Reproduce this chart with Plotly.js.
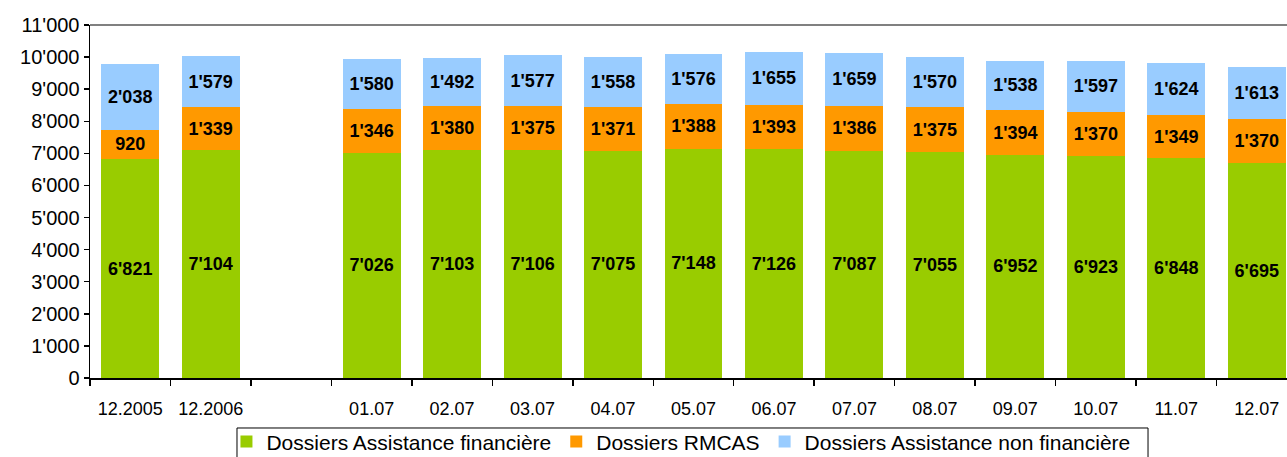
<!DOCTYPE html>
<html><head><meta charset="utf-8">
<script src="https://cdn.plot.ly/plotly-3.0.1.min.js"></script>
<style>html,body{margin:0;padding:0;background:#fff;}#chart{width:1287px;height:457px;}</style>
</head><body><div id="chart"></div>
<script>
const categories = ["12.2005","12.2006"," ","01.07","02.07","03.07","04.07","05.07","06.07","07.07","08.07","09.07","10.07","11.07","12.07"];
const financiere = [6821,7104,null,7026,7103,7106,7075,7148,7126,7087,7055,6952,6923,6848,6695];
const rmcas = [920,1339,null,1346,1380,1375,1371,1388,1393,1386,1375,1394,1370,1349,1370];
const nonFinanciere = [2038,1579,null,1580,1492,1577,1558,1576,1655,1659,1570,1538,1597,1624,1613];
const seriesNames = ["Dossiers Assistance financière","Dossiers RMCAS","Dossiers Assistance non financière"];
const colors = ["#99CC00","#FF9900","#99CCFF"];

function fmt(v){ if(v===null) return ""; return String(v).replace(/\B(?=(\d{3})+(?!\d))/g,"'"); }

const font = "Liberation Sans, Arial, sans-serif";
const traces = [financiere, rmcas, nonFinanciere].map((vals,i)=>({
  type:"bar", x:categories, y:vals, name:seriesNames[i],
  marker:{color:colors[i], line:{width:0}},
  text: vals.map(fmt), textposition:"inside", insidetextanchor:"middle",
  textangle:0, constraintext:"none",
  textfont:{family:font, size:18, color:"#000", weight:"bold"},
  hoverinfo:"skip"
}));

const layout = {
  width:1287, height:457,
  margin:{l:90, r:0, t:25, b:79, autoexpand:false},
  barmode:"stack", bargap:0.28,
  separators:".'",
  paper_bgcolor:"#fff", plot_bgcolor:"#fff",
  font:{family:font, color:"#000"},
  showlegend:true,
  legend:{orientation:"h", x:0.4937, xanchor:"center", y:-0.1225, yanchor:"top",
    borderwidth:0, bgcolor:"rgba(0,0,0,0)",
    font:{family:font, size:21, color:"#000"}, traceorder:"normal", itemwidth:30},
  xaxis:{type:"category", categoryorder:"array", categoryarray:categories,
    range:[-0.5, 14.376], showline:true, linecolor:"#000", linewidth:1.5,
    ticks:"outside", tickson:"boundaries", ticklen:6, tickcolor:"#000", tickwidth:1.5,
    ticklabelstandoff:14, tickfont:{family:font, size:18, color:"#000"},
    showgrid:false, zeroline:false, fixedrange:true},
  yaxis:{range:[0,11000], dtick:1000, tickformat:",d", showline:true, linecolor:"#000", linewidth:1.5,
    ticks:"outside", ticklen:5, tickcolor:"#000", tickwidth:1.5,
    tickfont:{family:font, size:20, color:"#000"},
    showgrid:false, zeroline:false, fixedrange:true},
  shapes:[
    {type:"line", xref:"paper", yref:"paper", x0:0, x1:1, y0:1, y1:1,
      line:{color:"#808080", width:2}},
    {type:"rect", xref:"paper", yref:"paper", x0:0.1228, x1:0.8839, y0:-0.1416, y1:-0.26,
      line:{color:"#000", width:1}, fillcolor:"rgba(0,0,0,0)"}
  ]
};
Plotly.newPlot("chart", traces, layout, {displayModeBar:false, staticPlot:true});
</script></body></html>
